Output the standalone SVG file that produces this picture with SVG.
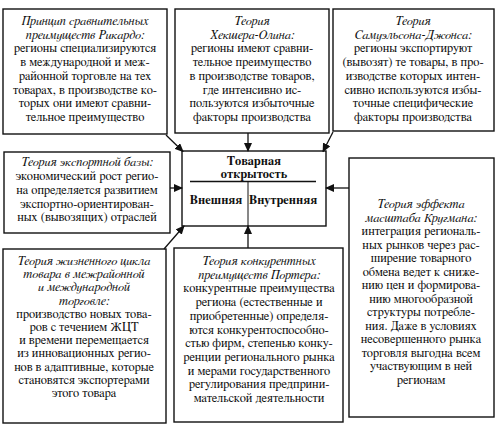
<svg xmlns="http://www.w3.org/2000/svg" width="501" height="426" viewBox="0 0 501 426">
<style>
.box{fill:#fff;stroke:#111;stroke-width:1.4}
text{font-family:FreeSerif,'Noto Serif','DejaVu Serif',serif;font-size:12.5px;fill:#111;text-anchor:middle}
.h{font-style:italic}
.b{font-weight:bold;font-size:12.5px}
.c{stroke:#111;stroke-width:1.3;fill:none}
</style>
<defs>
<marker id="ah" markerUnits="userSpaceOnUse" markerWidth="9" markerHeight="8" refX="8" refY="4" orient="auto">
<path d="M0,0 L9,4 L0,8 z" fill="#111"/>
</marker>
</defs>
<rect width="501" height="426" fill="#fff"/>

<g id="ricardo">
<rect class="box" x="3" y="9" width="164" height="125"/>
<text class="h" x="85" y="25">Принцип сравнительных</text>
<text class="h" x="85" y="38.7">преимуществ Рикардо:</text>
<text x="85" y="52.4">регионы специализируются</text>
<text x="85" y="66.1">в международной и меж-</text>
<text x="85" y="79.8">районной торговле на тех</text>
<text x="85" y="93.5">товарах, в производстве ко-</text>
<text x="85" y="107.2">торых они имеют сравни-</text>
<text x="85" y="120.9">тельное преимущество</text>
</g>

<g id="heckscher">
<rect class="box" x="175" y="9" width="154" height="124"/>
<text class="h" x="252" y="25">Теория</text>
<text class="h" x="252" y="38.7">Хекшера-Олина:</text>
<text x="252" y="52.4">регионы имеют сравни-</text>
<text x="252" y="66.1">тельное преимущество</text>
<text x="252" y="79.8">в производстве товаров,</text>
<text x="252" y="93.5">где  интенсивно ис-</text>
<text x="252" y="107.2">пользуются избыточные</text>
<text x="252" y="120.9">факторы производства</text>
</g>

<g id="samuelson">
<rect class="box" x="333" y="9" width="161" height="122"/>
<text class="h" x="413" y="25">Теория</text>
<text class="h" x="413" y="38.7">Самуэльсона-Джонса:</text>
<text x="413" y="52.4">регионы экспортируют</text>
<text x="413" y="66.1">(вывозят) те товары, в про-</text>
<text x="413" y="79.8">изводстве которых интен-</text>
<text x="413" y="93.5">сивно используются избы-</text>
<text x="413" y="107.2">точные специфические</text>
<text x="413" y="120.9">факторы производства</text>
</g>

<g id="export">
<rect class="box" x="4" y="152" width="166" height="81"/>
<text class="h" x="87" y="166">Теория экспортной базы:</text>
<text x="87" y="180">экономический рост регио-</text>
<text x="87" y="194">на определяется развитием</text>
<text x="87" y="207.5">экспортно-ориентирован-</text>
<text x="87" y="221">ных (вывозящих) отраслей</text>
</g>

<g id="center">
<rect class="box" x="182" y="151" width="144" height="75"/>
<text class="b" x="254" y="165">Товарная</text>
<text class="b" x="254" y="178">открытость</text>
<line x1="190" y1="181.5" x2="316" y2="181.5" stroke="#111" stroke-width="1.3"/>
<line x1="248" y1="181.5" x2="248" y2="226" stroke="#111" stroke-width="1"/>
<text class="b" x="216" y="204">Внешняя</text>
<text class="b" x="283" y="204">Внутренняя</text>
</g>

<g id="krugman">
<rect class="box" x="349" y="158" width="145" height="259"/>
<text class="h" x="421" y="208">Теория эффекта</text>
<text class="h" x="421" y="221.5">масштаба Кругмана:</text>
<text x="421" y="235">интеграция региональ-</text>
<text x="421" y="248.5">ных рынков через рас-</text>
<text x="421" y="262">ширение товарного</text>
<text x="421" y="275.5">обмена ведет к сниже-</text>
<text x="421" y="289">нию цен и формирова-</text>
<text x="421" y="302.5">нию многообразной</text>
<text x="421" y="316">структуры потребле-</text>
<text x="421" y="329.5">ния. Даже в условиях</text>
<text x="421" y="343">несовершенного рынка</text>
<text x="421" y="356.5">торговля выгодна всем</text>
<text x="421" y="370">участвующим в ней</text>
<text x="421" y="383.5">регионам</text>
</g>

<g id="lifecycle">
<rect class="box" x="3" y="249" width="163" height="174"/>
<text class="h" x="84" y="265">Теория жизненного цикла</text>
<text class="h" x="84" y="278.2">товара в межрайонной</text>
<text class="h" x="84" y="291.4">и международной</text>
<text class="h" x="84" y="304.6">торговле:</text>
<text x="84" y="317.8">производство новых това-</text>
<text x="84" y="331">ров с течением  ЖЦТ</text>
<text x="84" y="344.2">и времени перемещается</text>
<text x="84" y="357.4">из инновационных регио-</text>
<text x="84" y="370.6">нов в адаптивные, которые</text>
<text x="84" y="383.8">становятся экспортерами</text>
<text x="84" y="397">этого товара</text>
</g>

<g id="porter">
<rect class="box" x="174" y="248" width="169" height="174"/>
<text class="h" x="259" y="265">Теория конкурентных</text>
<text class="h" x="259" y="278.7">преимуществ Портера:</text>
<text x="259" y="292.4">конкурентные преимущества</text>
<text x="259" y="306.1">региона (естественные и</text>
<text x="259" y="319.8">приобретенные) определя-</text>
<text x="259" y="333.5">ются конкурентоспособно-</text>
<text x="259" y="347.2">стью фирм, степенью конку-</text>
<text x="259" y="360.9">ренции регионального рынка</text>
<text x="259" y="374.6">и мерами государственного</text>
<text x="259" y="388.3">регулирования предприни-</text>
<text x="259" y="402">мательской деятельности</text>
</g>

<g id="connectors">
<line class="c" x1="166" y1="135" x2="183" y2="151.5" marker-end="url(#ah)"/>
<line class="c" x1="248" y1="133" x2="248" y2="151" marker-end="url(#ah)"/>
<line class="c" x1="333" y1="132" x2="323" y2="151.5" marker-end="url(#ah)"/>
<line class="c" x1="170" y1="188" x2="182" y2="188" marker-end="url(#ah)"/>
<line class="c" x1="349" y1="188" x2="326" y2="188" marker-end="url(#ah)"/>
<line class="c" x1="164" y1="249" x2="184" y2="226" marker-end="url(#ah)"/>
<line class="c" x1="248" y1="248" x2="248" y2="226" marker-end="url(#ah)"/>
</g>
</svg>
